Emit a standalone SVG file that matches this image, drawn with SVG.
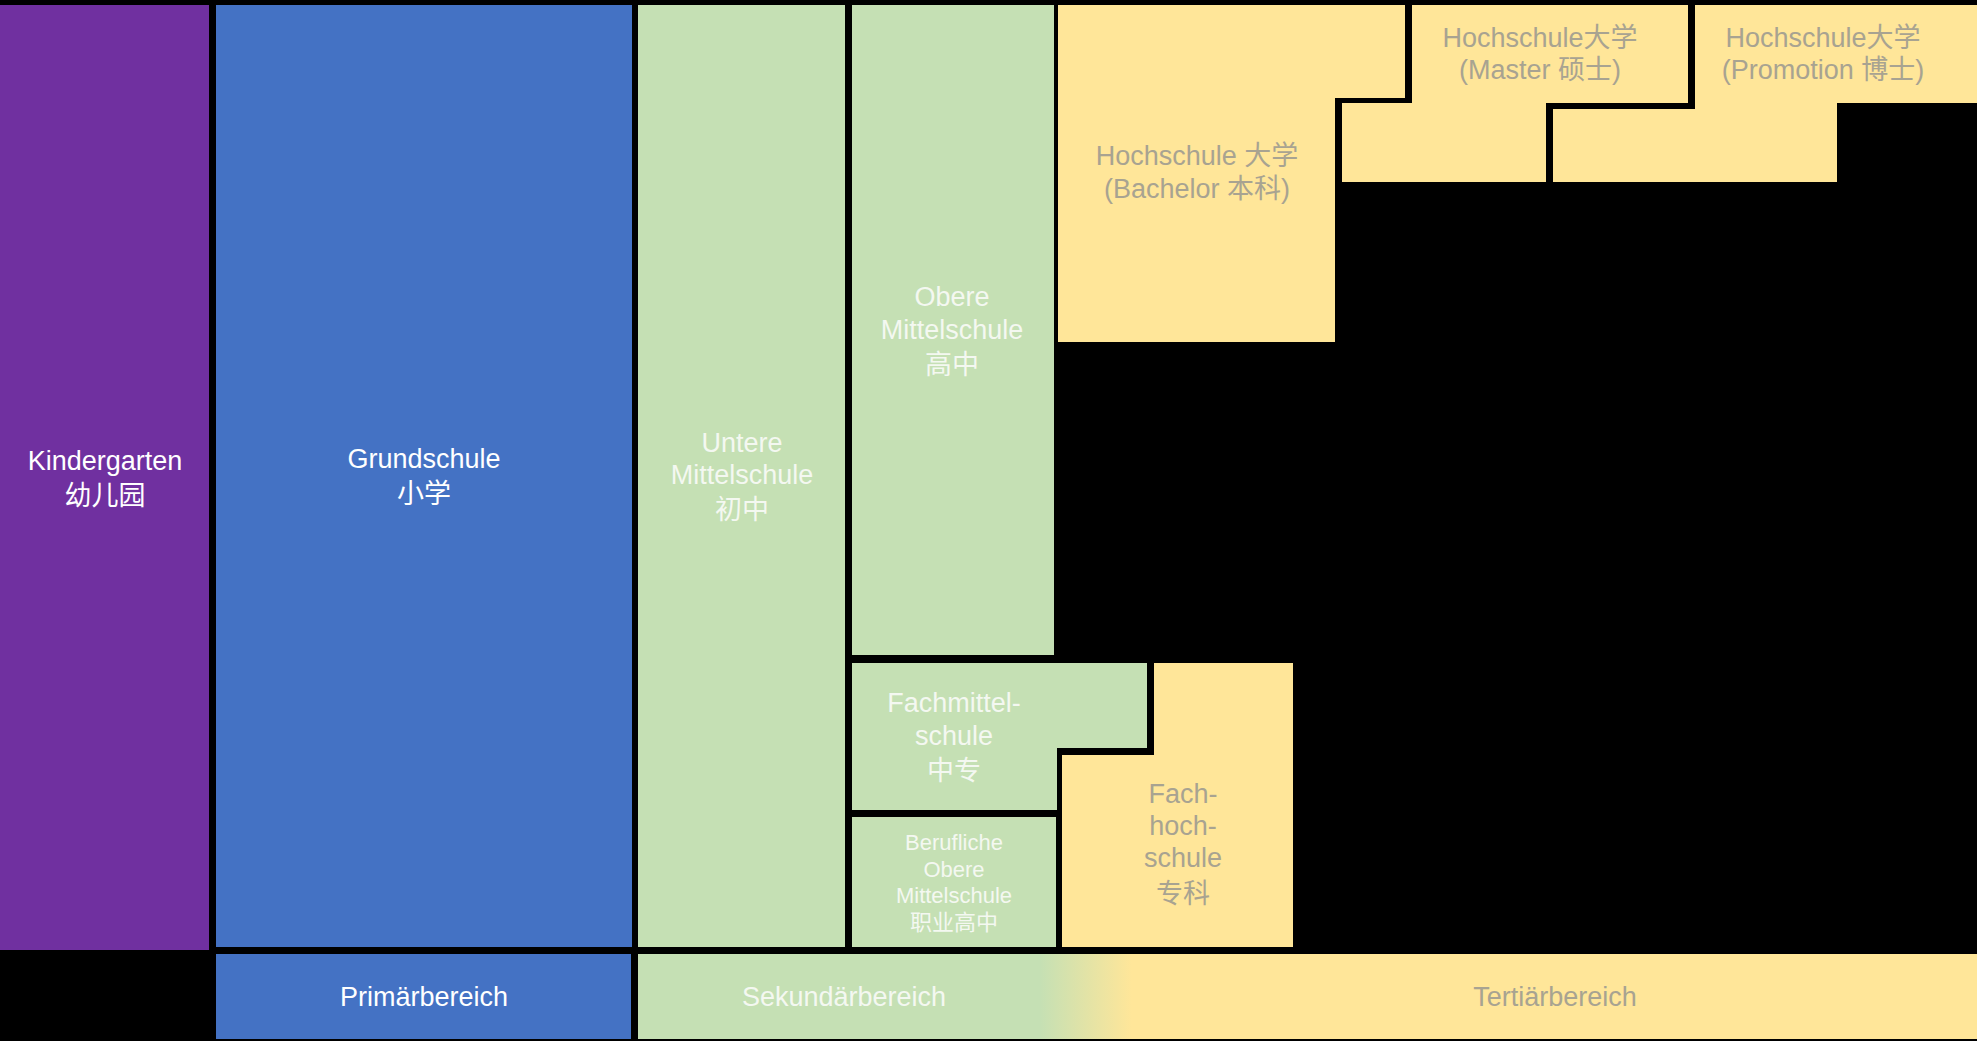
<svg xmlns="http://www.w3.org/2000/svg" width="1977" height="1041" viewBox="0 0 1977 1041">
<style>
text{font-family:"Liberation Sans","Noto Sans CJK SC",sans-serif;font-size:27px;text-anchor:middle}
.purple{fill:#7030A0}
.blue{fill:#4472C4}
.green{fill:#C5E0B4}
.yellow{fill:#FFE699}
.tw{fill:#FFFFFF}
.tg{fill:#F4F8F1}
.ty{fill:#A8A391}
.small{font-size:22px}
</style>
<defs>
<linearGradient id="sekTert" gradientUnits="userSpaceOnUse" x1="1040" y1="0" x2="1132" y2="0">
<stop offset="0" stop-color="#C5E0B4"/>
<stop offset="1" stop-color="#FFE699"/>
</linearGradient>
</defs>
<rect x="0" y="0" width="1977" height="1041" fill="#000000"/>
<g id="kindergarten">
<rect class="purple" x="0" y="5" width="209" height="945"/>
<text class="tw" x="105" y="470">Kindergarten</text>
<text class="tw" x="105" y="505">幼儿园</text>
</g>
<g id="grundschule">
<rect class="blue" x="216" y="5" width="416" height="942"/>
<text class="tw" x="424" y="468">Grundschule</text>
<text class="tw" x="424" y="503">小学</text>
</g>
<g id="untere-mittelschule">
<rect class="green" x="638" y="5" width="207" height="942"/>
<text class="tg" x="742" y="452">Untere</text>
<text class="tg" x="742" y="484">Mittelschule</text>
<text class="tg" x="742" y="519">初中</text>
</g>
<g id="obere-mittelschule">
<rect class="green" x="852" y="5" width="202" height="650"/>
<text class="tg" x="952" y="306">Obere</text>
<text class="tg" x="952" y="339">Mittelschule</text>
<text class="tg" x="952" y="374">高中</text>
</g>
<g id="fachmittelschule">
<path class="green" d="M852,663 H1147 V748 H1057 V810 H852 Z"/>
<text class="tg" x="954" y="712">Fachmittel-</text>
<text class="tg" x="954" y="745">schule</text>
<text class="tg" x="954" y="780">中专</text>
</g>
<g id="berufliche-obere-mittelschule">
<rect class="green" x="852" y="817" width="204" height="130"/>
<text class="tg small" x="954" y="850">Berufliche</text>
<text class="tg small" x="954" y="877">Obere</text>
<text class="tg small" x="954" y="903">Mittelschule</text>
<text class="tg small" x="954" y="930">职业高中</text>
</g>
<g id="fachhochschule">
<path class="yellow" d="M1154,663 H1293 V947 H1062 V755 H1154 Z"/>
<text class="ty" x="1183" y="803">Fach-</text>
<text class="ty" x="1183" y="835">hoch-</text>
<text class="ty" x="1183" y="867">schule</text>
<text class="ty" x="1183" y="903">专科</text>
</g>
<g id="bachelor">
<path class="yellow" d="M1058,5 H1405 V98 H1335 V342 H1058 Z"/>
<text class="ty" x="1197" y="165">Hochschule 大学</text>
<text class="ty" x="1197" y="198">(Bachelor 本科)</text>
</g>
<g id="master">
<path class="yellow" d="M1412,5 H1688 V103 H1546 V182 H1342 V103 H1412 Z"/>
<text class="ty" x="1540" y="47">Hochschule大学</text>
<text class="ty" x="1540" y="79">(Master 硕士)</text>
</g>
<g id="promotion">
<path class="yellow" d="M1695,5 H1977 V103 H1837 V182 H1553 V109 H1695 Z"/>
<text class="ty" x="1823" y="47">Hochschule大学</text>
<text class="ty" x="1823" y="79">(Promotion 博士)</text>
</g>
<g id="primaerbereich">
<rect class="blue" x="216" y="954" width="415" height="85"/>
<text class="tw" x="424" y="1006">Primärbereich</text>
</g>
<g id="sekundaer-tertiaerbereich">
<rect x="638" y="954" width="1339" height="85" fill="url(#sekTert)"/>
<text class="tg" x="844" y="1006">Sekundärbereich</text>
<text class="ty" x="1555" y="1006">Tertiärbereich</text>
</g>
<g id="connectors"/>
</svg>
